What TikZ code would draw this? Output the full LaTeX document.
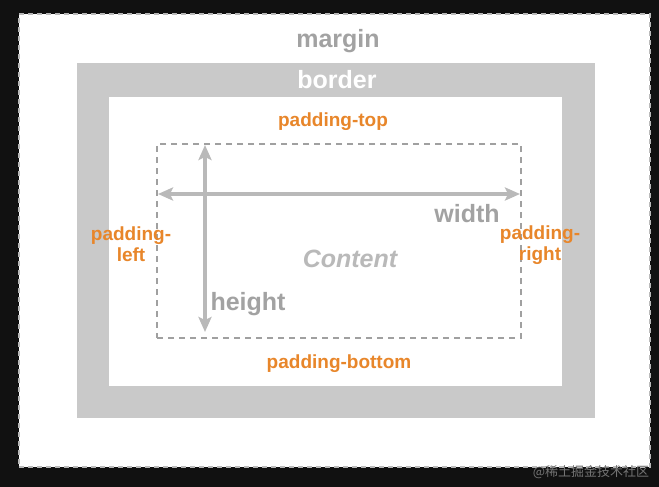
\documentclass[tikz,border=0pt]{standalone}
\usepackage{fontspec}
\setmainfont{Liberation Sans}
\newfontfamily\cjkfont{Noto Sans CJK SC}
\usetikzlibrary{arrows.meta}

\definecolor{screen}{HTML}{111111}
\definecolor{borderfill}{HTML}{C9C9C9}
\definecolor{labelgray}{HTML}{A2A2A2}
\definecolor{dimgray}{HTML}{B9B9B9}
\definecolor{dashgray}{HTML}{A0A0A0}
\definecolor{padorange}{HTML}{E8862A}

\begin{document}
\begin{tikzpicture}[
  x=1pt, y=-1pt,
  area/.style  ={rectangle, inner sep=0pt, outer sep=0pt},
  big/.style   ={font=\fontsize{25}{30}\selectfont\bfseries, text=labelgray, inner sep=0pt},
  pad/.style   ={font=\fontsize{19}{21}\selectfont\bfseries, text=padorange,
                 align=center, inner sep=0pt},
  dimarr/.style={{Stealth[length=15pt,width=13pt,inset=3pt]}-{Stealth[length=15pt,width=13pt,inset=3pt]},
                 line width=3.2pt, draw=dimgray},
]

% ---------------- screen ----------------
\fill[screen] (0,0) rectangle (659,487);
\useasboundingbox (0,0) rectangle (659,487);

% ---------------- box model ----------------
\node[area, fill=white, draw=dimgray, line width=1.2pt, dash pattern=on 5pt off 4pt,
      minimum width=631pt, minimum height=453pt] (margin) at (334.5,240.5) {};
\node[area, fill=borderfill, minimum width=518pt, minimum height=355pt] (border) at (336,240.5) {};
\node[area, fill=white, minimum width=453pt, minimum height=289pt] (padding) at (335.5,241.5) {};
\node[area, draw=dashgray, line width=1.5pt, dash pattern=on 6pt off 5pt,
      minimum width=364pt, minimum height=194pt] (content) at (339,241) {};

% ---------------- labels ----------------
\node[big] (marginlbl) at (338,41) {margin};
\node[big, text=white] (borderlbl) at (337,80) {border};
\node[pad] (padtop) at (333,122) {padding-top};
\node[pad] (padbottom) at (339,364) {padding-bottom};
\node[pad] (padleft) at (131,244) {padding-\\left};
\node[pad] (padright) at (540,245) {padding-\\right};
\node[big, text=dimgray, font=\fontsize{25}{30}\selectfont\bfseries\itshape] (contentlbl) at (350,259) {Content};
\node[big] (widthlbl) at (467,214) {width};
\node[big] (heightlbl) at (248,304) {height};

% ---------------- dimensions ----------------
\coordinate (wl) at (content.west |- 0,194);
\coordinate (wr) at (content.east |- 0,194);
\coordinate (ht) at (content.north -| 205,0);
\coordinate (hb) at (content.south -| 205,0);
\draw[dimarr, shorten <=1pt, shorten >=1pt] (wl) -- (wr);
\draw[dimarr, shorten <=1pt, shorten >=6pt] (ht) -- (hb);

% ---------------- watermark ----------------
\node[text=black!55, font=\cjkfont\fontsize{13}{15}\selectfont, inner sep=0pt] (mark) at (591,472) {@稀土掘金技术社区};

\end{tikzpicture}
\end{document}
